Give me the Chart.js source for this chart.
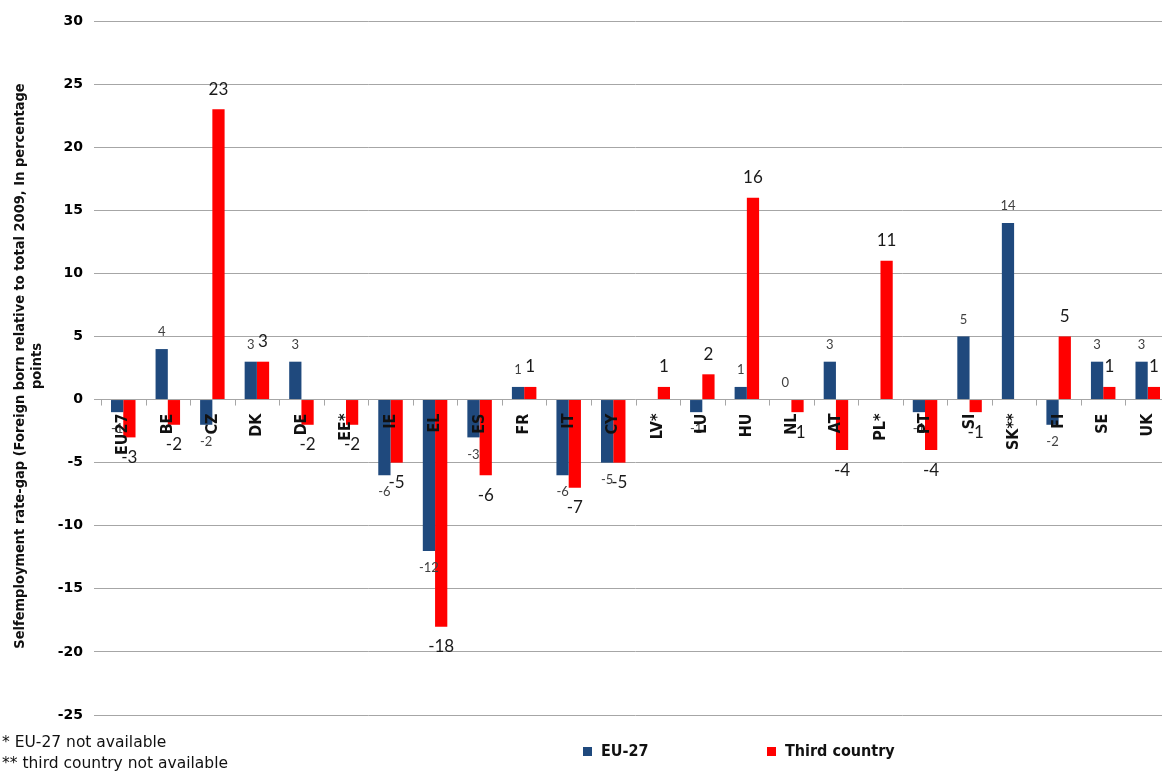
<!DOCTYPE html>
<html>
<head>
<meta charset="utf-8">
<script src="https://cdn.jsdelivr.net/npm/chart.js@4.4.1/dist/chart.umd.min.js"></script>
<style>
  html, body { margin: 0; padding: 0; background: #ffffff; overflow: hidden; }
  #wrap { position: relative; width: 1170px; height: 773px; }
</style>
</head>
<body>
<div id="wrap"><canvas id="chart" width="1170" height="773"></canvas></div>
<script>
// Countries along the x axis (* = EU-27 figure missing, ** = third-country figure missing)
const categories = ['EU27', 'BE', 'CZ', 'DK', 'DE', 'EE*', 'IE', 'EL', 'ES', 'FR', 'IT', 'CY',
                    'LV*', 'LU', 'HU', 'NL', 'AT', 'PL*', 'PT', 'SI', 'SK**', 'FI', 'SE', 'UK'];

// Self-employment rate gap, percentage points
const eu27Values         = [-1, 4, -2, 3, 3, null, -6, -12, -3, 1, -6, -5,
                            null, -1, 1, 0, 3, null, -1, 5, 14, -2, 3, 3];
const thirdCountryValues = [-3, -2, 23, 3, -2, -2, -5, -18, -6, 1, -7, -5,
                            1, 2, 16, -1, -4, 11, -4, -1, null, 5, 1, 1];

const seriesNames = ['EU-27', 'Third country'];
const yMin = -25;
const yMax = 30;
const yStep = 5;

const axisTitleLines = ['Selfemployment rate-gap (Foreign born relative to total 2009, In percentage', 'points'];
const footnotes = ['* EU-27 not available', '** third country not available'];

const BLUE = '#1F497D';
const RED = '#FF0000';
const GRID = '#a6a6a6';
const NARROW = '"Liberation Sans Narrow", "DejaVu Sans Condensed", "Roboto Condensed", sans-serif';

// Value labels above (positive) or below (negative) each bar
const valueLabels = {
  id: 'valueLabels',
  afterDatasetsDraw(chart) {
    const ctx = chart.ctx;
    const styles = [
      { font: '13px Lato, "Open Sans", sans-serif', color: '#404040', gap: 17 },
      { font: '17px Lato, "Open Sans", sans-serif', color: '#1a1a1a', gap: 20 }
    ];
    chart.data.datasets.forEach((ds, di) => {
      const meta = chart.getDatasetMeta(di);
      const st = styles[di];
      ctx.save();
      ctx.font = st.font;
      ctx.fillStyle = st.color;
      ctx.textAlign = 'center';
      ctx.textBaseline = 'middle';
      meta.data.forEach((bar, i) => {
        const v = ds.data[i];
        if (v === null || v === undefined) return;
        const y = v >= 0 ? bar.y - st.gap : bar.y + st.gap;
        ctx.fillText(String(v), bar.x, y);
      });
      ctx.restore();
    });
  }
};

// Category names written vertically just under the zero line, plus small tick marks
const zeroAxis = {
  id: 'zeroAxis',
  afterDatasetsDraw(chart) {
    const ctx = chart.ctx;
    const xs = chart.scales.x;
    const ys = chart.scales.y;
    const y0 = ys.getPixelForValue(0);
    const n = chart.data.labels.length;
    const half = (xs.getPixelForValue(1) - xs.getPixelForValue(0)) / 2;
    ctx.save();
    ctx.strokeStyle = GRID;
    ctx.lineWidth = 1;
    for (let i = 0; i <= n; i++) {
      const bx = Math.round(xs.getPixelForValue(i) - half) + 0.5;
      ctx.beginPath();
      ctx.moveTo(bx, y0);
      ctx.lineTo(bx, y0 + 6);
      ctx.stroke();
    }
    ctx.fillStyle = '#111111';
    ctx.font = 'bold 16px ' + NARROW;
    ctx.textAlign = 'right';
    ctx.textBaseline = 'middle';
    chart.data.labels.forEach((lab, i) => {
      const cx = xs.getPixelForValue(i);
      ctx.save();
      ctx.translate(cx, y0 + 14);
      ctx.rotate(-Math.PI / 2);
      ctx.fillText(lab, 0, 0);
      ctx.restore();
    });
    ctx.restore();
  }
};

// Axis title, legend and footnotes
const decorations = {
  id: 'decorations',
  afterDraw(chart) {
    const ctx = chart.ctx;
    ctx.save();
    // rotated two-line y-axis title
    ctx.fillStyle = '#111111';
    ctx.font = 'bold 14.5px ' + NARROW;
    ctx.textAlign = 'center';
    ctx.textBaseline = 'middle';
    const cy = 366;
    axisTitleLines.forEach((line, k) => {
      ctx.save();
      ctx.translate(20 + k * 17, cy);
      ctx.rotate(-Math.PI / 2);
      ctx.fillText(line, 0, 0);
      ctx.restore();
    });

    // legend
    const legendX = [583, 767];
    ctx.textAlign = 'left';
    ctx.font = 'bold 16px ' + NARROW;
    chart.data.datasets.forEach((ds, i) => {
      ctx.fillStyle = ds.backgroundColor;
      ctx.fillRect(legendX[i], 747, 9, 9);
      ctx.fillStyle = '#111111';
      ctx.fillText(ds.label, legendX[i] + 18, 752);
    });

    // footnotes
    ctx.font = '15.5px "DejaVu Sans", sans-serif';
    ctx.fillStyle = '#111111';
    footnotes.forEach((t, i) => {
      ctx.fillText(t, 2, 743 + i * 21);
    });
    ctx.restore();
  }
};

new Chart(document.getElementById('chart'), {
  type: 'bar',
  data: {
    labels: categories,
    datasets: [
      { label: seriesNames[0], data: eu27Values, backgroundColor: BLUE },
      { label: seriesNames[1], data: thirdCountryValues, backgroundColor: RED }
    ]
  },
  options: {
    responsive: false,
    devicePixelRatio: 1,
    animation: false,
    layout: { padding: { left: 0, right: 0, top: 21, bottom: 58 } },
    datasets: { bar: { categoryPercentage: 0.55, barPercentage: 1.0 } },
    plugins: { legend: { display: false }, tooltip: { enabled: false } },
    scales: {
      x: { display: false },
      y: {
        min: yMin,
        max: yMax,
        afterFit(scale) { scale.width = 101; },
        ticks: {
          stepSize: yStep,
          padding: 11,
          color: '#000000',
          font: { family: '"DejaVu Sans", sans-serif', size: 14, weight: 'bold' }
        },
        grid: { color: GRID, lineWidth: 1, tickLength: 7, drawTicks: true },
        border: { display: false }
      }
    }
  },
  plugins: [valueLabels, zeroAxis, decorations]
});
</script>
</body>
</html>
